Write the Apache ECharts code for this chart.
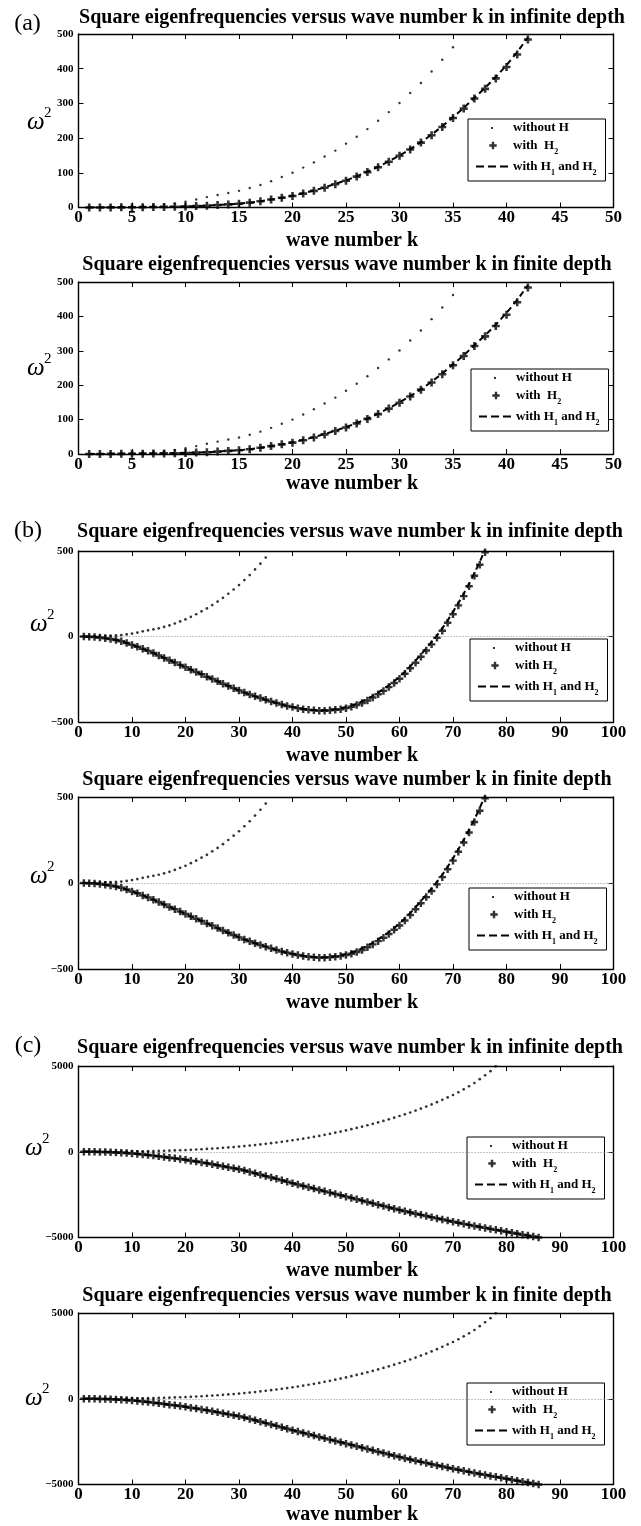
<!DOCTYPE html>
<html><head><meta charset="utf-8">
<script src="https://cdn.jsdelivr.net/npm/echarts@6/dist/echarts.min.js"></script>
<style>html,body{margin:0;padding:0;background:#fff}#c{width:641px;height:1526px}</style>
</head><body><div id="c"></div>
<script>
// ---------------- DATA ----------------
// x tick labels
const xTicksA = [0,5,10,15,20,25,30,35,40,45,50];
const xTicksBC = [0,10,20,30,40,50,60,70,80,90,100];
// y tick labels
const yTicksA = [0,100,200,300,400,500];
const yTicksB = [-500,0,500];
const yTicksC = [-5000,0,5000];

// panel (a): 0 <= k <= 50
const kWithoutH_AB = [1,2,3,4,5,6,7,8,9,10,11,12,13,14,15,16,17,18,19,20,21,22,23,24,25,26,27,28,29,30,31,32,33,34,35];
const omega2WithoutH_AB = [0.5,1.2,2,3,4,5,6.5,8,12,17,23,30,36,42,48,56,65,76,88,100,115,130,147,164,184,204,226,250,275,301,330,359,392,426,462];
const kWithH_A = [1,2,3,4,5,6,7,8,9,10,11,12,13,14,15,16,17,18,19,20,21,22,23,24,25,26,27,28,29,30,31,32,33,34,35,36,37,38,39,40,41,42];
const omega2WithH2_A = [0.1,0.2,0.3,0.5,0.7,1,1.3,1.7,2.2,3,4,5,7,9,11,14,18,23,28,33,40,48,57,67,77,89,102,116,132,149,167,187,208,232,258,285,314,342,372,405,441,484];
const omega2WithH1H2_A = [0.1,0.2,0.3,0.5,0.7,1,1.3,1.7,2.3,3,4,5,7,9,11,14,18,23,28,34,41,49,58,68,78,90,103,117,133,150,168,188,210,234,260,287,316,345,376,410,448,490];

// panel (b)
const kWithH_B = [1,2,3,4,5,6,7,8,9,10,11,12,13,14,15,16,17,18,19,20,21,22,23,24,25,26,27,28,29,30,31,32,33,34,35,36,37,38,39,40,41,42,43,44,45,46,47,48,49,50,51,52,53,54,55,56,57,58,59,60,61,62,63,64,65,66,67,68,69,70,71,72,73,74,75,76];
const omega2WithH2_B = [0,-1,-3,-6,-10,-15,-20,-28,-38,-49,
  -60,-72,-84,-97,-111,-125,-139,-152,-166,-180,
  -194,-208,-221,-235,-248,-262,-276,-289,-302,-316,
  -328,-339,-350,-360,-370,-380,-389,-398,-406,-413,
  -419,-425,-429,-432,-434,-434,-432,-429,-425,-419,
  -411,-401,-389,-374,-357,-338,-318,-296,-272,-247,
  -218,-186,-153,-118,-82,-46,-8,34,80,130,
  182,236,294,355,420,492];
const omega2WithH1H2_B = [0,-1,-3,-6,-10,-15,-20,-28,-38,-49,
  -60,-72,-84,-97,-111,-125,-139,-152,-166,-180,
  -194,-208,-221,-235,-248,-262,-276,-289,-302,-316,
  -328,-339,-350,-360,-370,-380,-389,-398,-406,-412,
  -418,-423,-427,-430,-431,-431,-428,-424,-419,-412,
  -404,-393,-380,-365,-348,-329,-308,-286,-262,-236,
  -207,-175,-141,-106,-69,-32,6,48,94,144,
  196,250,308,370,436,508];

// panel (c)
const kWithoutH_C = [1,2,3,4,5,6,7,8,9,10,11,12,13,14,15,16,17,18,19,20,21,22,23,24,25,26,27,28,29,30,31,32,33,34,35,36,37,38,39,40,41,42,43,44,45,46,47,48,49,50,51,52,53,54,55,56,57,58,59,60,61,62,63,64,65,66,67,68,69,70,71,72,73,74,75,76,77,78];
const omega2WithoutH_C = [0.5,1.2,2,3,4,5,6.5,8,12,17,23,30,36,42,48,56,65,76,88,100,115,130,147,164,184,204,226,250,275,301,330,359,392,426,462,
  500,540,580,625,670,715,765,815,870,925,985,1045,1110,1175,1245,1315,1390,1465,1545,1625,1710,1800,1890,1985,2085,2185,2290,2400,2515,2635,2760,2890,3025,3165,3310,3470,3640,3820,4010,4230,4460,4700,4980];
const kWithH_C = [1,2,3,4,5,6,7,8,9,10,11,12,13,14,15,16,17,18,19,20,21,22,23,24,25,26,27,28,29,30,31,32,33,34,35,36,37,38,39,40,41,42,43,44,45,46,47,48,49,50,51,52,53,54,55,56,57,58,59,60,61,62,63,64,65,66,67,68,69,70,71,72,73,74,75,76,77,78,79,80,81,82,83,84,85,86];
const omega2WithH2_C = [0,-2,-5,-10,-17,-27,-40,-56,-75,-100,
  -125,-155,-188,-225,-265,-305,-345,-385,-425,-470,
  -520,-570,-620,-675,-730,-790,-850,-910,-960,-1016,
  -1095,-1175,-1255,-1340,-1420,-1500,-1580,-1665,-1750,-1836,
  -1915,-1995,-2075,-2150,-2230,-2310,-2385,-2465,-2540,-2617,
  -2695,-2775,-2850,-2930,-3010,-3090,-3165,-3245,-3320,-3398,
  -3470,-3540,-3610,-3680,-3750,-3820,-3885,-3950,-4015,-4082,
  -4145,-4205,-4265,-4325,-4385,-4440,-4500,-4555,-4610,-4668,
  -4725,-4780,-4835,-4890,-4945,-5000];
const omega2WithH1H2_C = [0,-2,-5,-10,-17,-27,-40,-56,-75,-100,
  -125,-155,-188,-225,-264,-304,-344,-384,-424,-468,
  -518,-568,-618,-672,-727,-787,-846,-905,-956,-1012,
  -1090,-1170,-1250,-1334,-1414,-1494,-1574,-1658,-1743,-1828,
  -1908,-1988,-2067,-2143,-2222,-2302,-2377,-2457,-2532,-2609,
  -2687,-2766,-2842,-2921,-3001,-3081,-3156,-3236,-3311,-3389,
  -3461,-3531,-3601,-3671,-3741,-3811,-3876,-3941,-4006,-4073,
  -4136,-4196,-4256,-4316,-4376,-4431,-4491,-4546,-4601,-4659,
  -4716,-4771,-4826,-4881,-4936,-4991];

const seriesNames = ['without H', 'with H2', 'with H1 and H2'];
const titleInfinite = 'Square eigenfrequencies versus wave number k in infinite depth';
const titleFinite = 'Square eigenfrequencies versus wave number k in finite depth';
const xAxisName = 'wave number k';
const panelLetters = ['(a)', '(b)', '(c)'];

// ---------------- LAYOUT ----------------
const FONT = '"Liberation Serif", "Times New Roman", serif';
const panels = [
  {grp:'A', top:34,   height:173.5, title:titleInfinite, tx:352, ty:18,    nameGap:23, wy:122,  wx:27, legTop:119,  legLeft:468, dblSpace:true},
  {grp:'A', top:282,  height:172,   title:titleFinite,   tx:347, ty:265,   nameGap:19, wy:368,  wx:27, legTop:369,  legLeft:471, dblSpace:true},
  {grp:'B', top:551,  height:171,   title:titleInfinite, tx:350, ty:532,   nameGap:24, wy:624,  wx:30, legTop:639,  legLeft:470, dblSpace:false},
  {grp:'B', top:797,  height:172,   title:titleFinite,   tx:347, ty:779.5, nameGap:24, wy:876,  wx:30, legTop:888,  legLeft:469, dblSpace:false},
  {grp:'C', top:1066, height:171.5, title:titleInfinite, tx:350, ty:1048,  nameGap:23, wy:1148, wx:25, legTop:1137, legLeft:467, dblSpace:true},
  {grp:'C', top:1313, height:171.5, title:titleFinite,   tx:347, ty:1296,  nameGap:19, wy:1398, wx:25, legTop:1383, legLeft:467, dblSpace:true}
];
const letterPos = [{t:panelLetters[0], x:27.5, y:23.5}, {t:panelLetters[1], x:28, y:531}, {t:panelLetters[2], x:28, y:1046}];

const groups = {
  A: {xT:xTicksA, yT:yTicksA, kW:kWithoutH_AB, vW:omega2WithoutH_AB, kH:kWithH_A, vH2:omega2WithH2_A, vH12:omega2WithH1H2_A, zero:false, dot:2.4, plus:8},
  B: {xT:xTicksBC, yT:yTicksB, kW:kWithoutH_AB, vW:omega2WithoutH_AB, kH:kWithH_B, vH2:omega2WithH2_B, vH12:omega2WithH1H2_B, zero:true, dot:2.7, plus:7.5},
  C: {xT:xTicksBC, yT:yTicksC, kW:kWithoutH_C, vW:omega2WithoutH_C, kH:kWithH_C, vH2:omega2WithH2_C, vH12:omega2WithH1H2_C, zero:true, dot:2.7, plus:7.5}
};

const zip = (ks, vs) => ks.map((k, i) => [k, vs[i]]);
const PLUS = 'path://M2.7,0h2.6v2.7h2.7v2.6h-2.7v2.7h-2.6v-2.7h-2.7v-2.6h2.7z';
const fmtNum = v => (v < 0 ? '\u2212' + (-v) : String(v));

const grids = [], xAxes = [], yAxes = [], series = [], legends = [], graphics = [];

panels.forEach((p, i) => {
  const g = groups[p.grp];
  grids.push({left:78.5, width:535, top:p.top, height:p.height, containLabel:false});
  const xr = {min:g.xT[0], max:g.xT[g.xT.length-1], interval:g.xT[1]-g.xT[0]};
  const yr = {min:g.yT[0], max:g.yT[g.yT.length-1], interval:g.yT[1]-g.yT[0]};
  const line = {show:true, onZero:false, lineStyle:{color:'#000', width:1.4}};
  const tick = {show:true, inside:true, length:5, lineStyle:{color:'#000', width:1}};
  xAxes.push(Object.assign({type:'value', gridIndex:i, position:'bottom', axisLine:line, axisTick:tick, splitLine:{show:false},
    axisLabel:{show:true, margin:2, color:'#000', fontFamily:FONT, fontWeight:'bold', fontSize:17, formatter:fmtNum},
    name:xAxisName, nameLocation:'middle', nameGap:p.nameGap,
    nameTextStyle:{color:'#000', fontFamily:FONT, fontWeight:'bold', fontSize:20, padding:[0,0,0,12]}}, xr));
  xAxes.push(Object.assign({type:'value', gridIndex:i, position:'top', axisLine:line, axisTick:tick, splitLine:{show:false}, axisLabel:{show:false}}, xr));
  yAxes.push(Object.assign({type:'value', gridIndex:i, position:'left', axisLine:line, axisTick:tick, splitLine:{show:false},
    axisLabel:{show:true, margin:5, color:'#000', fontFamily:FONT, fontWeight:'bold', fontSize:11, formatter:fmtNum}}, yr));
  yAxes.push(Object.assign({type:'value', gridIndex:i, position:'right', axisLine:line, axisTick:tick, splitLine:{show:false}, axisLabel:{show:false}}, yr));

  const s0 = {name:seriesNames[0], type:'scatter', xAxisIndex:2*i, yAxisIndex:2*i, data:zip(g.kW, g.vW),
    symbol:'circle', symbolSize:g.dot, itemStyle:{color:'#000'}, silent:true, z:3};
  if (g.zero) {
    s0.markLine = {silent:true, symbol:'none', label:{show:false}, animation:false,
      lineStyle:{color:'#8a8a8a', type:[1,2], width:1}, data:[{yAxis:0}]};
  }
  series.push(s0);
  series.push({name:seriesNames[2], type:'line', xAxisIndex:2*i, yAxisIndex:2*i, data:zip(g.kH, g.vH12),
    symbol:'none', lineStyle:{color:'#000', width:2, type:[6,4]}, itemStyle:{color:'#000'}, silent:true, z:4});
  series.push({name:seriesNames[1], type:'scatter', xAxisIndex:2*i, yAxisIndex:2*i, data:zip(g.kH, g.vH2),
    symbol:PLUS, symbolSize:g.plus, itemStyle:{color:'#000'}, silent:true, z:5});

  legends.push({
    orient:'vertical', left:p.legLeft, top:p.legTop, itemWidth:32, itemHeight:14, itemGap:0,
    padding:[2,9,4,8], borderColor:'#000', borderWidth:1, backgroundColor:'#fff', selectedMode:false,
    data:[
      {name:seriesNames[0], icon:'path://M0,0M32,14M15,6h2v2h-2z', itemStyle:{color:'#000'}},
      {name:seriesNames[1], icon:'path://M0,0M32,14M15.8,3.3h2.4v2.5h2.5v2.4h-2.5v2.5h-2.4v-2.5h-2.5v-2.4h2.5z', itemStyle:{color:'#000'}},
      {name:seriesNames[2], icon:'path://M0,0M32,14M0,6h8v2h-8zM12,6h8v2h-8zM24,6h8v2h-8z', itemStyle:{color:'#000'}}
    ],
    formatter: function(name){
      if (name === seriesNames[0]) return '{u|without H}';
      if (name === seriesNames[1]) return (p.dblSpace ? '{t|with  H}' : '{t|with H}') + '{s|2}';
      return '{t|with H}{s|1}{t| and H}{s|2}';
    },
    textStyle:{color:'#000', fontFamily:FONT, fontWeight:'bold', fontSize:13,
      rich:{
        u:{fontFamily:FONT, fontWeight:'bold', fontSize:13, lineHeight:21, color:'#000'},
        t:{fontFamily:FONT, fontWeight:'bold', fontSize:13, lineHeight:14, color:'#000'},
        s:{fontFamily:FONT, fontWeight:'bold', fontSize:8, lineHeight:8, padding:[13,0,0,0], color:'#000'}
      }}
  });

  graphics.push({type:'text', silent:true, style:{text:p.title, x:p.tx, y:p.ty, font:'bold 20px ' + FONT,
    fill:'#000', align:'center', verticalAlign:'middle', textAlign:'center', textVerticalAlign:'middle'}});
  graphics.push({type:'text', silent:true, style:{text:'\u03c9', x:p.wx, y:p.wy, font:'italic 25px ' + FONT,
    fill:'#000', align:'left', verticalAlign:'middle', textAlign:'left', textVerticalAlign:'middle'}});
  graphics.push({type:'text', silent:true, style:{text:'2', x:p.wx + 17, y:p.wy - 9, font:'15px ' + FONT,
    fill:'#000', align:'left', verticalAlign:'middle', textAlign:'left', textVerticalAlign:'middle'}});
});

letterPos.forEach(l => {
  graphics.push({type:'text', silent:true, style:{text:l.t, x:l.x, y:l.y, font:'24px ' + FONT,
    fill:'#000', align:'center', verticalAlign:'middle', textAlign:'center', textVerticalAlign:'middle'}});
});

const chart = echarts.init(document.getElementById('c'), null, {renderer:'canvas'});
chart.setOption({
  animation:false,
  backgroundColor:'#fff',
  grid:grids, xAxis:xAxes, yAxis:yAxes, series:series, legend:legends, graphic:graphics
});
</script></body></html>
